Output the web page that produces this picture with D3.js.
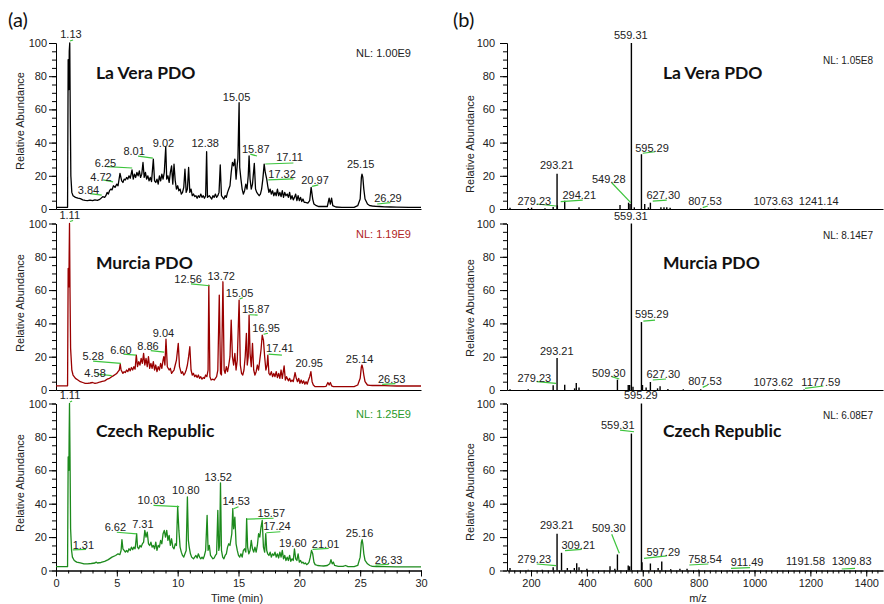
<!DOCTYPE html>
<html>
<head>
<meta charset="utf-8">
<script src="https://cdn.jsdelivr.net/npm/d3@7"></script>
<style>
body{margin:0;background:#fff;}
svg text{font-family:"Liberation Sans",Arial,sans-serif;fill:#222;}
.title{font-family:Lato,"Open Sans",sans-serif;font-weight:bold;font-size:17.5px;fill:#111;}
.panelTag{font-family:Lato,"Open Sans",sans-serif;font-size:20px;fill:#111;}
</style>
</head>
<body>
<svg id="chart" width="884" height="604"></svg>
<script>
//sample names and normalisation levels
var sampleNames = ["La Vera PDO", "Murcia PDO", "Czech Republic"];
var ticNL = ["NL: 1.00E9", "NL: 1.19E9", "NL: 1.25E9"];
var msNL = ["NL: 1.05E8", "NL: 8.14E7", "NL: 6.08E7"];
var timeTicks = [0, 5, 10, 15, 20, 25, 30];
var mzTicks = [200, 400, 600, 800, 1000, 1200, 1400];
var abundTicks = [0, 20, 40, 60, 80, 100];

//total ion chromatograms [time (min), relative abundance]
var laVeraTic = [[0,1],[0.95,1],[1.0,90],[1.04,88],[1.06,72],[1.09,95],[1.13,100],[1.17,60],[1.22,20],[1.3,10],[1.4,8],[1.6,7],[1.8,6.5],[2.0,6.2],[2.2,5.5],[2.4,5.2],[2.6,5.0],[2.8,5.3],[3.0,5.0],[3.2,5.5],[3.4,5.2],[3.6,5.8],[3.84,7.4],[4.0,7],[4.1,8],[4.2,10],[4.3,9],[4.4,11],[4.5,12],[4.6,11.5],[4.72,14],[4.85,13],[5.0,15],[5.1,14],[5.26,21.5],[5.4,17],[5.5,16],[5.6,18],[5.7,17.5],[5.8,19],[5.9,18],[6.0,20],[6.1,18.5],[6.25,23.5],[6.35,18],[6.45,21],[6.55,19],[6.65,22],[6.75,20],[6.85,23],[6.95,19],[7.05,21],[7.15,28],[7.25,19],[7.35,22],[7.45,18],[7.55,20],[7.65,17],[7.75,19],[7.85,16.5],[8.0,30],[8.1,17],[8.2,16],[8.3,18],[8.4,15],[8.5,20],[8.6,17],[8.7,21],[8.8,18],[8.9,22],[9.02,37.5],[9.1,18],[9.2,20],[9.3,16],[9.4,22],[9.5,26],[9.6,15],[9.7,27],[9.8,17],[9.9,12],[10.0,14],[10.1,11],[10.2,12],[10.3,9],[10.4,10],[10.5,13],[10.6,24],[10.7,10],[10.8,12],[10.9,25],[11.0,10],[11.1,12],[11.2,8],[11.3,9],[11.4,7.5],[11.5,8],[11.6,6.5],[11.7,8],[11.8,7],[11.9,9],[12.0,7],[12.1,8],[12.2,6.5],[12.3,8],[12.38,34.5],[12.45,7],[12.6,8],[12.7,7],[12.8,6],[12.9,8],[13.0,7],[13.1,9],[13.2,7],[13.3,8],[13.4,10],[13.5,26.5],[13.6,8],[13.7,7],[13.8,6],[13.9,8],[14.0,7],[14.1,10],[14.2,12],[14.3,14],[14.4,22],[14.5,28],[14.6,26],[14.7,30],[14.8,18],[14.9,27],[14.95,30],[15.05,64],[15.1,25],[15.2,18],[15.3,12],[15.4,9],[15.5,11],[15.6,15],[15.7,12],[15.8,20],[15.87,32],[15.95,18],[16.05,12],[16.15,15],[16.3,27.5],[16.4,12],[16.5,10],[16.6,9],[16.7,8],[16.8,9],[16.9,12],[17.0,18],[17.11,27],[17.2,22],[17.32,18],[17.4,14],[17.5,10],[17.6,12],[17.7,9],[17.8,11],[17.9,8],[18.0,10],[18.1,8],[18.2,12],[18.3,8],[18.4,10],[18.5,7.5],[18.6,11],[18.7,7],[18.8,10],[18.9,8],[19.0,9],[19.1,7],[19.2,10],[19.3,6],[19.4,8],[19.5,5.5],[19.6,7],[19.7,9],[19.8,5],[19.9,8],[20.0,5],[20.1,7],[20.2,4.5],[20.3,6],[20.4,4],[20.5,4],[20.7,3.5],[20.85,5],[20.97,13],[21.1,6],[21.2,3],[21.4,2],[21.6,1.5],[22.0,1.5],[22.3,1.5],[22.45,6.5],[22.55,3],[22.65,6.5],[22.75,2],[23.0,1.2],[23.5,1],[24.0,1],[24.5,1],[24.8,2],[25.0,6],[25.1,19],[25.15,21],[25.22,19],[25.3,12],[25.4,6],[25.6,3],[25.8,2],[26.0,1.8],[26.29,1.6],[26.6,1.5],[27.0,1.3],[27.5,1.2],[28.0,1.1],[29.0,1],[30,1]];

var murciaTic = [[0,2.5],[0.95,2.5],[1.0,73],[1.04,72],[1.06,62],[1.08,80],[1.11,100],[1.15,60],[1.2,25],[1.3,12],[1.4,9],[1.6,7],[1.8,6],[2.0,5],[2.2,4.5],[2.4,4],[2.6,4],[2.8,4.2],[3.0,4.5],[3.2,4],[3.4,4.3],[3.6,4.8],[3.8,5.2],[4.0,5.5],[4.2,6.5],[4.4,7],[4.58,8],[4.7,8.5],[4.9,9.5],[5.0,10],[5.1,11],[5.2,12],[5.28,15.5],[5.35,12],[5.5,10],[5.6,11],[5.7,10.5],[5.8,12],[5.9,11],[6.0,13],[6.1,11.5],[6.2,13.5],[6.3,12],[6.4,14],[6.5,12.5],[6.6,21],[6.7,14],[6.8,17],[6.9,15],[7.0,19],[7.1,16],[7.2,22],[7.3,15],[7.4,19],[7.5,14],[7.6,20],[7.7,13],[7.8,16],[7.9,13],[8.0,17],[8.1,12],[8.2,15],[8.3,11],[8.4,14],[8.5,12],[8.6,16],[8.7,13],[8.8,18],[8.86,20],[8.95,15],[9.04,30.5],[9.15,14],[9.3,12],[9.4,13],[9.5,10],[9.6,11],[9.7,12],[9.8,15],[9.9,18],[10.05,28],[10.15,14],[10.3,10],[10.4,11],[10.5,9],[10.6,10],[10.7,12],[10.8,15],[10.9,20],[11.0,26],[11.1,12],[11.2,9],[11.3,10],[11.4,8],[11.5,9],[11.6,7.5],[11.7,9],[11.8,7],[11.9,8],[12.0,6.5],[12.1,7.5],[12.2,7],[12.3,9],[12.4,8],[12.5,12],[12.56,63],[12.65,8],[12.75,6],[12.9,6.5],[13.0,6],[13.1,7],[13.2,8],[13.3,12],[13.42,57],[13.52,10],[13.6,9],[13.72,65],[13.82,12],[13.9,10],[14.0,14],[14.1,11],[14.2,15],[14.3,20],[14.4,42],[14.5,20],[14.6,15],[14.7,22],[14.8,12],[14.9,18],[15.05,54],[15.15,15],[15.25,10],[15.35,9],[15.45,12],[15.55,20],[15.65,34],[15.72,15],[15.8,20],[15.87,45],[15.95,22],[16.05,14],[16.15,28],[16.25,12],[16.35,9],[16.45,11],[16.55,15],[16.65,12],[16.75,18],[16.85,24],[16.95,33],[17.05,30],[17.15,20],[17.25,12],[17.35,15],[17.41,21],[17.5,10],[17.6,9],[17.7,11],[17.8,8],[17.9,10],[18.0,8],[18.1,11],[18.2,7.5],[18.3,10],[18.4,7],[18.5,12],[18.6,7],[18.75,14.5],[18.85,6],[18.95,8],[19.1,5.5],[19.2,7],[19.3,5],[19.4,6],[19.5,5],[19.65,10.5],[19.75,7],[19.85,5],[19.95,7],[20.05,4],[20.15,6],[20.25,4],[20.35,5.5],[20.45,3.5],[20.55,5],[20.65,3.5],[20.75,6],[20.85,8],[20.95,11],[21.05,5],[21.15,3],[21.3,2],[21.5,2],[21.8,2],[22.0,2],[22.2,2.2],[22.35,4.5],[22.45,3],[22.55,4.5],[22.65,2.5],[22.8,2],[23.0,2],[23.5,2],[24.0,2],[24.5,2],[24.8,3],[25.0,7],[25.1,14],[25.15,15],[25.22,13],[25.3,9],[25.4,5],[25.6,3],[25.8,2.8],[26.0,2.7],[26.53,2.7],[27.0,2.6],[27.5,2.5],[28.0,2.4],[29.0,2.4],[30,2.4]];

var czechTic = [[0,2.3],[0.95,2.3],[1.0,68],[1.04,67],[1.06,60],[1.08,80],[1.11,100],[1.15,70],[1.2,25],[1.28,12],[1.35,8],[1.5,6],[1.7,5],[2.0,4.5],[2.3,4],[2.6,4],[2.9,4.2],[3.2,4.5],[3.3,5],[3.4,4.5],[3.7,4.8],[4.0,5.5],[4.3,6.5],[4.6,8],[4.9,9],[5.1,10],[5.25,9.5],[5.35,12],[5.42,18.5],[5.5,13],[5.6,12],[5.7,11],[5.8,12],[5.9,11],[6.0,13],[6.1,12],[6.2,14],[6.3,12.5],[6.4,14],[6.5,13],[6.55,16],[6.63,22],[6.7,14],[6.8,13],[6.9,15],[7.0,14],[7.1,16],[7.2,17],[7.3,24],[7.4,20],[7.5,23],[7.6,16],[7.7,15],[7.8,17],[7.9,14],[8.0,15],[8.1,13],[8.2,17],[8.3,12],[8.4,15],[8.5,14],[8.6,18],[8.7,16],[8.8,22],[8.9,24],[9.0,20],[9.1,24],[9.2,18],[9.3,21],[9.4,15],[9.5,19],[9.6,14],[9.7,13],[9.8,16],[9.9,15],[10.0,38.5],[10.1,24],[10.2,14],[10.3,11],[10.4,9],[10.5,8],[10.6,10],[10.7,12],[10.8,44],[10.88,18],[10.95,14],[11.05,10],[11.15,8],[11.3,7],[11.4,8],[11.5,9],[11.6,7.5],[11.7,10],[11.8,8],[11.9,7],[12.0,8],[12.1,7],[12.2,9],[12.3,12],[12.42,33],[12.5,12],[12.6,15],[12.7,9],[12.8,8],[12.9,7],[13.0,7.5],[13.1,9],[13.2,10],[13.3,36],[13.38,12],[13.45,15],[13.52,52.5],[13.6,12],[13.7,8],[13.8,7],[13.9,9],[14.0,10],[14.1,14],[14.2,16],[14.3,15],[14.45,22],[14.53,37],[14.6,25],[14.7,32],[14.8,16],[14.9,12],[15.0,9],[15.1,8],[15.2,10],[15.3,8],[15.4,12],[15.5,13],[15.6,11],[15.67,31],[15.75,14],[15.85,10],[15.95,12],[16.05,18],[16.15,13],[16.25,11],[16.35,14],[16.45,11],[16.55,15],[16.65,22],[16.75,20],[16.85,26],[16.95,30],[17.05,14],[17.15,11],[17.24,22],[17.32,12],[17.4,10],[17.5,9],[17.6,11],[17.7,8],[17.8,10],[17.9,9],[18.0,11],[18.1,8],[18.2,10],[18.3,7.5],[18.4,11],[18.5,8],[18.6,12],[18.7,7],[18.8,9],[18.9,6],[19.0,8],[19.1,6],[19.2,9],[19.3,5.5],[19.4,7],[19.5,6],[19.6,13],[19.7,7],[19.8,6],[19.9,10],[20.0,5],[20.1,6],[20.2,4.5],[20.3,5],[20.4,4],[20.5,4.5],[20.6,3.5],[20.7,4],[20.8,5],[20.9,8],[21.0,12],[21.1,10],[21.2,5],[21.3,3.5],[21.5,3],[21.8,2.8],[22.0,2.7],[22.3,3],[22.5,4],[22.6,6.5],[22.7,4],[22.8,5],[22.9,3],[23.2,2.5],[23.6,2.5],[23.8,3],[24.0,2.3],[24.5,2.3],[24.8,3],[25.0,8],[25.1,17],[25.16,18.5],[25.22,16],[25.3,10],[25.4,6],[25.6,4],[25.8,3],[26.0,2.5],[26.33,2.4],[27,2.3],[28,2.2],[30,2.2]];

//mass spectra sticks [m/z, relative abundance]
var laVeraMs = [[124.8,0.8],[190,0.6],[202,0.8],[250,0.4],[279.23,1.2],[293.21,21.3],[294.21,2.2],[320.6,5],[371.8,1],[518.6,2.4],[549.28,3.8],[554.4,3],[559.31,100],[569.8,1],[595.29,33],[607,3],[620,1],[627.30,3.8],[665,1],[676,1],[686,1],[698,0.8],[807.53,0.3],[1073.63,0.2],[1241.14,0.2]];
var murciaMs = [[124.8,0.5],[190,0.5],[279.23,2.8],[293.21,19.2],[320.6,3.2],[356,1],[362,4.2],[371.8,1.5],[509.30,6.2],[548,3],[553,3],[559.31,100],[565,2],[595.29,40.8],[599,3],[612,1.5],[627.30,4.8],[653,1],[662,2.2],[690,0.6],[745,0.4],[807.53,0.4],[1073.62,0.3],[1177.59,0.3]];
var czechMs = [[124.8,1.5],[190,0.5],[240,0.5],[279.23,2],[293.21,22],[309.21,10.6],[330,1.5],[355,1.5],[363.6,4.4],[371.8,2],[400,1],[482.8,2.5],[500,1],[509.30,9.6],[548,3],[553,2.5],[559.31,82],[595.29,100],[597.29,5],[627.30,4.2],[655,1.5],[668,5.4],[700,0.8],[733,1],[758.54,1],[800,0.5],[911.49,0.3],[1191.58,0.3],[1309.83,0.3]];

//peak labels [text, label x, label y, leader x1, y1, x2, y2] in data units
var laVeraTicLabels = [["1.13",1.23,103.0,1.15,101.2,1.40,101.8],["3.84",2.67,9.0,2.80,9.3,3.76,8.4],["4.72",3.70,16.9,3.87,17.5,4.69,16.3],["6.25",4.07,25.5,4.20,25.5,6.26,24.7],["8.01",6.42,32.5,6.75,31.9,7.96,30.7],["9.02",8.83,37.5],["12.38",12.26,37.3],["15.05",14.84,65.1],["15.87",16.42,33.6,15.97,33.1,16.52,31.9],["17.11",19.20,28.9,17.20,27.1,19.51,27.7],["17.32",18.58,18.9,17.45,17.5,19.51,18.1],["20.97",21.29,14.9,21.05,13.6,21.56,14.5],["25.15",25.04,24.5],["26.29",27.28,4.2,26.40,3.0,27.49,3.8]];
var murciaTicLabels = [["1.11",1.13,102.7,1.15,101.2,1.40,101.8],["4.58",3.21,8.0,3.35,9.6,4.58,8.6],["5.28",3.05,18.0,3.05,17.4,5.33,16.0],["6.60",5.33,21.6,5.54,21.6,6.58,21.0],["8.86",7.56,24.0,7.79,23.6,8.89,22.8],["9.04",8.83,31.7],["12.56",10.86,64.1,11.09,63.7,12.62,62.6],["13.72",13.58,66.1],["15.05",15.09,56.0,15.09,54.7,15.36,55.4],["15.87",16.42,46.1,15.91,45.2,16.57,45.0],["16.95",17.27,34.7,17.06,33.5,17.42,34.1],["17.41",18.40,22.6,17.47,21.6,18.57,21.0],["20.95",20.81,14.0],["25.14",24.95,16.0],["26.53",27.59,4.4,26.81,3.4,27.90,3.8]];
var czechTicLabels = [["1.11",1.15,102.5,1.15,100.9,1.32,101.5],["1.31",2.25,12.7,1.37,12.3,2.47,12.7],["6.62",4.88,23.8,5.0,22.9,6.64,21.9],["7.31",7.14,25.6],["10.03",7.84,39.6,8.01,39.0,10.12,38.2],["10.80",10.67,45.6],["13.52",13.33,53.6],["14.53",14.81,39.2,14.59,37.0,15.0,38.2],["15.57",17.70,32.2,15.70,30.8,17.88,31.3],["17.24",18.16,24.3,17.28,22.6,18.44,23.2],["19.60",19.47,14.3],["21.01",22.16,13.7,21.09,12.7,22.41,13.3],["25.16",24.95,20.2],["26.33",27.34,3.9,26.26,3.3,27.35,3.7]];

var laVeraMsLabels = [["559.31",557.3,102.4],["595.29",633.2,34.5,599.9,33.6,643.9,34.5],["293.21",292.0,23.9],["549.28",478.2,15.8,488.9,15.8,556.9,3.8],["279.23",211.8,2.4,220.4,3.0,289.5,1.8],["294.21",372.6,6.0,306.3,4.4,385.1,5.4],["627.30",673.6,6.0,635.7,4.8,685.8,5.4],["807.53",822.9,2.4,814.7,0.8,832.6,1.8],["1073.63",1067.4,2.4],["1241.14",1230.0,2.4]];
var murciaMsLabels = [["559.31",557.3,102.1],["595.29",632.1,43.1,602.0,41.4,643.9,42.0],["293.21",292.0,21.0],["279.23",211.8,5.0,220.4,5.0,289.5,4.0],["509.30",478.2,7.8,488.9,8.0,516.1,6.6],["627.30",673.6,7.0,635.7,6.0,683.3,6.6],["807.53",822.9,3.0,814.7,1.6,832.6,3.0],["1073.62",1067.4,2.6],["1177.59",1237.5,2.6,1180.9,1.0,1246.5,2.4]];
var czechMsLabels = [["595.29",593.1,102.5],["559.31",510.4,84.6,518.6,84.1,568.7,83.1],["293.21",292.0,24.7],["309.21",369.3,12.9,321.7,11.9,381.5,12.7],["509.30",478.2,22.9,488.9,21.7,516.1,10.3],["279.23",211.8,4.3,220.4,3.9,289.5,2.9],["597.29",673.6,8.9,604.5,7.3,685.8,8.7],["758.54",822.9,4.3,766.7,3.3,834.7,3.9],["911.49",973.3,2.7,916,1.3,984,1.7],["1191.58",1182.7,3.3],["1309.83",1348.1,3.3,1312.3,0.9,1359.9,1.3]];

var ticData = [laVeraTic, murciaTic, czechTic];
var msData = [laVeraMs, murciaMs, czechMs];
var ticLabels = [laVeraTicLabels, murciaTicLabels, czechTicLabels];
var msLabels = [laVeraMsLabels, murciaMsLabels, czechMsLabels];

var traceColors = ["#000000", "#9a0000", "#1c8a1c"];
var nlColors = ["#222222", "#b02424", "#2a9a2a"];
var leaderColor = "#3cc43c";

var svg = d3.select("#chart");

//row geometry: pixel y of 0 and of 100
var rows = [[209, 43], [390, 223.5], [570.5, 403.5]];
var yTitleLeft = [121, 303, 483],
    yTitleRight = [144, 308, 492];

var xTime = d3.scaleLinear().domain([0, 30]).range([56, 421]);
var xMz = d3.scaleLinear().domain([114, 1460]).range([507, 883]);

function styleAxis(g){
    g.select(".domain").attr("stroke", "#000").attr("stroke-width", 1);
    g.selectAll(".tick line").attr("stroke", "#000");
    g.selectAll(".tick text").attr("font-size", "11px").attr("fill", "#222");
}

function drawPanel(row, x, side){
    var y = d3.scaleLinear().domain([0, 100]).range(rows[row]);
    var x0 = x.range()[0];
    var g = svg.append("g");
    var bottom = row == 2;

    //x axis
    if (bottom){
        var majors = side == "left" ? timeTicks : mzTicks;
        var minors = side == "left" ? d3.range(0, 31, 1) : d3.range(120, 1460, 20);
        g.append("g")
            .attr("transform", "translate(0," + y(0) + ")")
            .call(d3.axisBottom(x).tickValues(minors).tickSize(3).tickFormat("").tickSizeOuter(0))
            .call(styleAxis);
        g.append("g")
            .attr("transform", "translate(0," + y(0) + ")")
            .call(d3.axisBottom(x).tickValues(majors).tickSize(6).tickPadding(3)
                .tickFormat(d3.format("d")).tickSizeOuter(0))
            .call(styleAxis);
    } else {
        g.append("g")
            .attr("transform", "translate(0," + y(0) + ")")
            .call(d3.axisBottom(x).tickValues([]).tickSizeOuter(0))
            .call(styleAxis);
    }

    //y axis, minor then major
    g.append("g")
        .attr("transform", "translate(" + x0 + ",0)")
        .call(d3.axisLeft(y).tickValues(d3.range(0, 101, 5)).tickSize(4).tickFormat("").tickSizeOuter(0))
        .call(styleAxis);
    g.append("g")
        .attr("transform", "translate(" + x0 + ",0)")
        .call(d3.axisLeft(y).tickValues(abundTicks).tickSize(7).tickPadding(side == "left" ? 2 : 5).tickSizeOuter(0))
        .call(styleAxis);

    //axis title
    var tx = side == "left" ? 20 : 470;
    var ty = side == "left" ? yTitleLeft[row] : yTitleRight[row];
    g.append("text")
        .attr("transform", "translate(" + tx + "," + ty + ") rotate(-90)")
        .attr("text-anchor", "middle")
        .attr("dy", "0.35em")
        .attr("font-size", "11px")
        .text("Relative Abundance");

    //data
    if (side == "left"){
        var line = d3.line()
            .x(function(d){ return x(d[0]); })
            .y(function(d){ return y(d[1]); });
        g.append("path")
            .datum(ticData[row])
            .attr("d", line)
            .attr("fill", "none")
            .attr("stroke", traceColors[row])
            .attr("stroke-width", 1.3)
            .attr("stroke-linejoin", "round");
    } else {
        g.selectAll(".stick")
            .data(msData[row])
            .enter()
            .append("line")
            .attr("class", "stick")
            .attr("x1", function(d){ return x(d[0]); })
            .attr("x2", function(d){ return x(d[0]); })
            .attr("y1", y(0))
            .attr("y2", function(d){ return y(d[1]); })
            .attr("stroke", "#000")
            .attr("stroke-width", 1.4);
    }

    //peak labels with leader lines
    var labels = side == "left" ? ticLabels[row] : msLabels[row];
    labels.forEach(function(l){
        if (l.length > 3){
            g.append("line")
                .attr("x1", x(l[3])).attr("y1", y(l[4]))
                .attr("x2", x(l[5])).attr("y2", y(l[6]))
                .attr("stroke", leaderColor)
                .attr("stroke-width", 1.2);
        }
        g.append("text")
            .attr("x", x(l[1]))
            .attr("y", y(l[2]))
            .attr("text-anchor", "middle")
            .attr("font-size", "11px")
            .text(l[0]);
    });

    //normalisation level and sample name
    if (side == "left"){
        g.append("text")
            .attr("x", 411).attr("y", [57, 237.5, 417.5][row])
            .attr("text-anchor", "end")
            .attr("font-size", "11px")
            .style("fill", nlColors[row])
            .text(ticNL[row]);
    } else {
        g.append("text")
            .attr("x", 873).attr("y", [64, 239, 418.5][row])
            .attr("text-anchor", "end")
            .attr("font-size", "10px")
            .text(msNL[row]);
    }
    g.append("text")
        .attr("class", "title")
        .attr("x", side == "left" ? 96 : 663)
        .attr("y", [79, 268.5, 436.5][row])
        .text(sampleNames[row]);
}

for (var r = 0; r < 3; r++){
    drawPanel(r, xTime, "left");
    drawPanel(r, xMz, "right");
}

//x axis titles
svg.append("text").attr("x", 237).attr("y", 602).attr("text-anchor", "middle")
    .attr("font-size", "11px").text("Time (min)");
svg.append("text").attr("x", 698).attr("y", 602).attr("text-anchor", "middle")
    .attr("font-size", "11px").text("m/z");

//panel tags
svg.append("text").attr("class", "panelTag").attr("x", 8).attr("y", 27).text("(a)");
svg.append("text").attr("class", "panelTag").attr("x", 453).attr("y", 27).text("(b)");
</script>
</body>
</html>
